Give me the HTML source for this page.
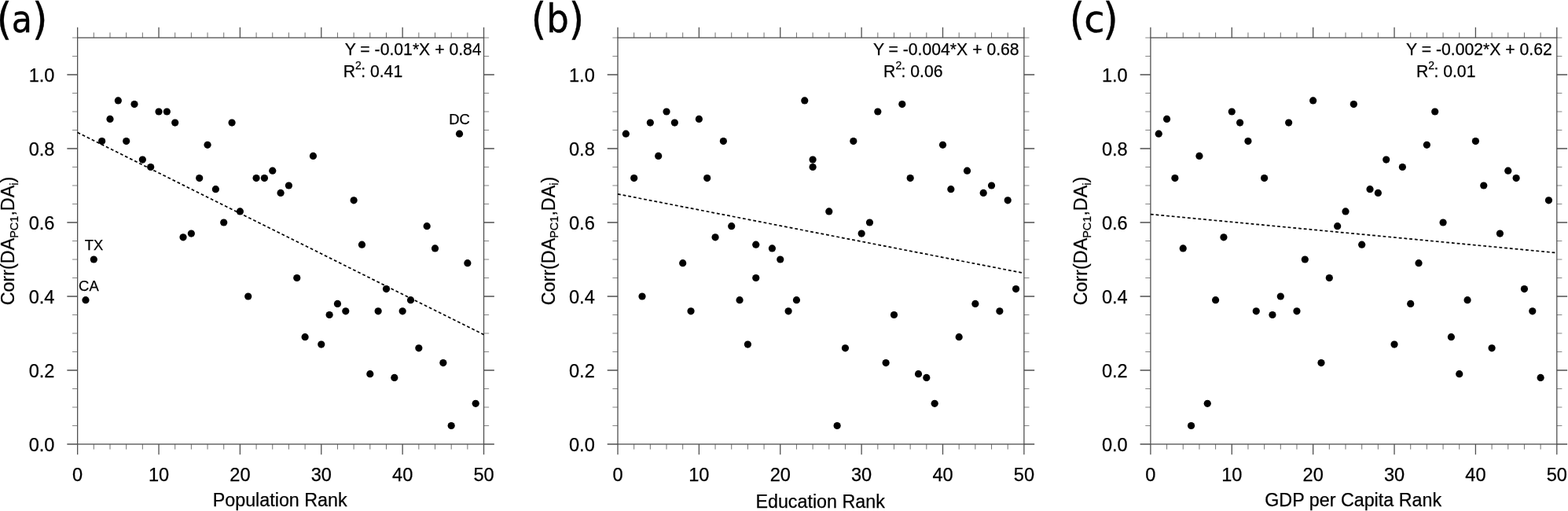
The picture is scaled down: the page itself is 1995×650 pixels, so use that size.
<!DOCTYPE html>
<html lang="en"><head><meta charset="utf-8"><title>Correlation vs. rank scatter plots</title>
<style>
html,body{margin:0;padding:0;background:#fff;}
body{width:1995px;height:650px;overflow:hidden;}
svg{display:block;}
text{font-family:"Liberation Sans",sans-serif;fill:#000;stroke:#000;stroke-width:0.25px;}
.ax{stroke:#505050;stroke-width:1.3;fill:none;}
.mj{stroke:#505050;stroke-width:1.3;fill:none;}
.mn{stroke:#6a6a6a;stroke-width:0.95;fill:none;}
.my{stroke:#808080;}
.fit{stroke:#000;stroke-width:1.7;stroke-dasharray:3.8 2.95;fill:none;}
.pt{fill:#000;}
.tk{font-size:23.6px;}
.tt{font-size:23.3px;}
.eq{font-size:21.2px;}
.lb{font-size:18.4px;}
.tag{font-family:"DejaVu Sans Condensed","DejaVu Sans","Liberation Sans",sans-serif;font-stretch:condensed;stroke-width:0.4px;}
.tag .n{font-family:"DejaVu Sans","Liberation Sans",sans-serif;font-stretch:normal;}
</style></head><body>
<svg width="1995" height="650" viewBox="0 0 1995 650">
<rect x="0" y="0" width="1995" height="650" fill="#fff"/>
<g id="panel-a">
<path class="mn" d="M119.33 565v6.6M119.33 48v-6.6M140 565v6.6M140 48v-6.6M160.68 565v6.6M160.68 48v-6.6M181.35 565v6.6M181.35 48v-6.6M222.71 565v6.6M222.71 48v-6.6M243.38 565v6.6M243.38 48v-6.6M264.06 565v6.6M264.06 48v-6.6M284.73 565v6.6M284.73 48v-6.6M326.09 565v6.6M326.09 48v-6.6M346.76 565v6.6M346.76 48v-6.6M367.44 565v6.6M367.44 48v-6.6M388.11 565v6.6M388.11 48v-6.6M429.47 565v6.6M429.47 48v-6.6M450.14 565v6.6M450.14 48v-6.6M470.82 565v6.6M470.82 48v-6.6M491.49 565v6.6M491.49 48v-6.6M532.85 565v6.6M532.85 48v-6.6M553.52 565v6.6M553.52 48v-6.6M574.2 565v6.6M574.2 48v-6.6M594.87 565v6.6M594.87 48v-6.6"/>
<path class="mn my" d="M98.65 541.5h-6.6M615.55 541.5h6.6M98.65 518h-6.6M615.55 518h6.6M98.65 494.5h-6.6M615.55 494.5h6.6M98.65 447.5h-6.6M615.55 447.5h6.6M98.65 424h-6.6M615.55 424h6.6M98.65 400.5h-6.6M615.55 400.5h6.6M98.65 353.5h-6.6M615.55 353.5h6.6M98.65 330h-6.6M615.55 330h6.6M98.65 306.5h-6.6M615.55 306.5h6.6M98.65 259.5h-6.6M615.55 259.5h6.6M98.65 236h-6.6M615.55 236h6.6M98.65 212.5h-6.6M615.55 212.5h6.6M98.65 165.5h-6.6M615.55 165.5h6.6M98.65 142h-6.6M615.55 142h6.6M98.65 118.5h-6.6M615.55 118.5h6.6M98.65 71.5h-6.6M615.55 71.5h6.6M98.65 48h-6.6M615.55 48h6.6"/>
<path class="mj" d="M98.65 565v13.3M98.65 48v-13.3M202.03 565v13.3M202.03 48v-13.3M305.41 565v13.3M305.41 48v-13.3M408.79 565v13.3M408.79 48v-13.3M512.17 565v13.3M512.17 48v-13.3M615.55 565v13.3M615.55 48v-13.3M98.65 565h-13.3M615.55 565h13.3M98.65 471h-13.3M615.55 471h13.3M98.65 377h-13.3M615.55 377h13.3M98.65 283h-13.3M615.55 283h13.3M98.65 189h-13.3M615.55 189h13.3M98.65 95h-13.3M615.55 95h13.3"/>
<rect class="ax" x="98.65" y="48" width="516.9" height="517"/>
<line class="fit" x1="98.65" y1="168.56" x2="615.55" y2="425.64"/>
<g class="pt">
<circle cx="108.99" cy="381.7" r="4.6"/>
<circle cx="119.33" cy="330" r="4.6"/>
<circle cx="129.66" cy="179.6" r="4.6"/>
<circle cx="140" cy="151.4" r="4.6"/>
<circle cx="150.34" cy="127.9" r="4.6"/>
<circle cx="160.68" cy="179.6" r="4.6"/>
<circle cx="171.02" cy="132.6" r="4.6"/>
<circle cx="181.35" cy="203.1" r="4.6"/>
<circle cx="191.69" cy="212.5" r="4.6"/>
<circle cx="202.03" cy="142" r="4.6"/>
<circle cx="212.37" cy="142" r="4.6"/>
<circle cx="222.71" cy="156.1" r="4.6"/>
<circle cx="233.04" cy="301.8" r="4.6"/>
<circle cx="243.38" cy="297.1" r="4.6"/>
<circle cx="253.72" cy="226.6" r="4.6"/>
<circle cx="264.06" cy="184.3" r="4.6"/>
<circle cx="274.4" cy="240.7" r="4.6"/>
<circle cx="284.73" cy="283" r="4.6"/>
<circle cx="295.07" cy="156.1" r="4.6"/>
<circle cx="305.41" cy="268.9" r="4.6"/>
<circle cx="315.75" cy="377" r="4.6"/>
<circle cx="326.09" cy="226.6" r="4.6"/>
<circle cx="336.42" cy="226.6" r="4.6"/>
<circle cx="346.76" cy="217.2" r="4.6"/>
<circle cx="357.1" cy="245.4" r="4.6"/>
<circle cx="367.44" cy="236" r="4.6"/>
<circle cx="377.78" cy="353.5" r="4.6"/>
<circle cx="388.11" cy="428.7" r="4.6"/>
<circle cx="398.45" cy="198.4" r="4.6"/>
<circle cx="408.79" cy="438.1" r="4.6"/>
<circle cx="419.13" cy="400.5" r="4.6"/>
<circle cx="429.47" cy="386.4" r="4.6"/>
<circle cx="439.8" cy="395.8" r="4.6"/>
<circle cx="450.14" cy="254.8" r="4.6"/>
<circle cx="460.48" cy="311.2" r="4.6"/>
<circle cx="470.82" cy="475.7" r="4.6"/>
<circle cx="481.16" cy="395.8" r="4.6"/>
<circle cx="491.49" cy="367.6" r="4.6"/>
<circle cx="501.83" cy="480.4" r="4.6"/>
<circle cx="512.17" cy="395.8" r="4.6"/>
<circle cx="522.51" cy="381.7" r="4.6"/>
<circle cx="532.85" cy="442.8" r="4.6"/>
<circle cx="543.18" cy="287.7" r="4.6"/>
<circle cx="553.52" cy="315.9" r="4.6"/>
<circle cx="563.86" cy="461.6" r="4.6"/>
<circle cx="574.2" cy="541.5" r="4.6"/>
<circle cx="584.54" cy="170.2" r="4.6"/>
<circle cx="594.87" cy="334.7" r="4.6"/>
<circle cx="605.21" cy="513.3" r="4.6"/>
</g>
<text class="tk" x="98.65" y="612.4" text-anchor="middle">0</text>
<text class="tk" x="202.03" y="612.4" text-anchor="middle">10</text>
<text class="tk" x="305.41" y="612.4" text-anchor="middle">20</text>
<text class="tk" x="408.79" y="612.4" text-anchor="middle">30</text>
<text class="tk" x="512.17" y="612.4" text-anchor="middle">40</text>
<text class="tk" x="615.55" y="612.4" text-anchor="middle">50</text>
<text class="tk" x="69.45" y="573.5" text-anchor="end">0.0</text>
<text class="tk" x="69.45" y="479.5" text-anchor="end">0.2</text>
<text class="tk" x="69.45" y="385.5" text-anchor="end">0.4</text>
<text class="tk" x="69.45" y="291.5" text-anchor="end">0.6</text>
<text class="tk" x="69.45" y="197.5" text-anchor="end">0.8</text>
<text class="tk" x="69.45" y="103.5" text-anchor="end">1.0</text>
<text class="tt" x="356.2" y="644" text-anchor="middle">Population Rank</text>
<text class="tt" transform="translate(18.15 306.5) rotate(-90)" text-anchor="middle">Corr(DA<tspan font-size="14.5" dy="4.5">PC1</tspan><tspan dy="-4.5">,DA</tspan><tspan font-size="14.5" dy="4.5">i</tspan><tspan dy="-4.5">)</tspan></text>
<text class="eq" x="438.7" y="70.3">Y = -0.01*X + 0.84</text>
<text class="eq" x="436.75" y="98.1">R<tspan font-size="14" dy="-9.8">2</tspan><tspan dy="9.8" dx="-0.7">: 0.41</tspan></text>
<text class="lb" x="119.6" y="317.8" text-anchor="middle">TX</text>
<text class="lb" x="112.9" y="370.2" text-anchor="middle">CA</text>
<text class="lb" x="584.5" y="158.4" text-anchor="middle">DC</text>
<text class="tag"><tspan x="-4.2" y="43.25" font-size="55.2">(</tspan><tspan x="14.74" y="40.7" font-size="47.4">a</tspan><tspan x="40.97" y="43.25" font-size="55.2">)</tspan></text>
</g>
<g id="panel-b">
<path class="mn" d="M806.68 565v6.6M806.68 48v-6.6M827.35 565v6.6M827.35 48v-6.6M848.03 565v6.6M848.03 48v-6.6M868.7 565v6.6M868.7 48v-6.6M910.06 565v6.6M910.06 48v-6.6M930.73 565v6.6M930.73 48v-6.6M951.41 565v6.6M951.41 48v-6.6M972.08 565v6.6M972.08 48v-6.6M1013.44 565v6.6M1013.44 48v-6.6M1034.11 565v6.6M1034.11 48v-6.6M1054.79 565v6.6M1054.79 48v-6.6M1075.46 565v6.6M1075.46 48v-6.6M1116.82 565v6.6M1116.82 48v-6.6M1137.49 565v6.6M1137.49 48v-6.6M1158.17 565v6.6M1158.17 48v-6.6M1178.84 565v6.6M1178.84 48v-6.6M1220.2 565v6.6M1220.2 48v-6.6M1240.87 565v6.6M1240.87 48v-6.6M1261.55 565v6.6M1261.55 48v-6.6M1282.22 565v6.6M1282.22 48v-6.6"/>
<path class="mn my" d="M786 541.5h-6.6M1302.9 541.5h6.6M786 518h-6.6M1302.9 518h6.6M786 494.5h-6.6M1302.9 494.5h6.6M786 447.5h-6.6M1302.9 447.5h6.6M786 424h-6.6M1302.9 424h6.6M786 400.5h-6.6M1302.9 400.5h6.6M786 353.5h-6.6M1302.9 353.5h6.6M786 330h-6.6M1302.9 330h6.6M786 306.5h-6.6M1302.9 306.5h6.6M786 259.5h-6.6M1302.9 259.5h6.6M786 236h-6.6M1302.9 236h6.6M786 212.5h-6.6M1302.9 212.5h6.6M786 165.5h-6.6M1302.9 165.5h6.6M786 142h-6.6M1302.9 142h6.6M786 118.5h-6.6M1302.9 118.5h6.6M786 71.5h-6.6M1302.9 71.5h6.6M786 48h-6.6M1302.9 48h6.6"/>
<path class="mj" d="M786 565v13.3M786 48v-13.3M889.38 565v13.3M889.38 48v-13.3M992.76 565v13.3M992.76 48v-13.3M1096.14 565v13.3M1096.14 48v-13.3M1199.52 565v13.3M1199.52 48v-13.3M1302.9 565v13.3M1302.9 48v-13.3M786 565h-13.3M1302.9 565h13.3M786 471h-13.3M1302.9 471h13.3M786 377h-13.3M1302.9 377h13.3M786 283h-13.3M1302.9 283h13.3M786 189h-13.3M1302.9 189h13.3M786 95h-13.3M1302.9 95h13.3"/>
<rect class="ax" x="786" y="48" width="516.9" height="517"/>
<line class="fit" x1="786" y1="246.86" x2="1302.9" y2="347.48"/>
<g class="pt">
<circle cx="796.34" cy="170.2" r="4.6"/>
<circle cx="806.68" cy="226.6" r="4.6"/>
<circle cx="817.01" cy="377" r="4.6"/>
<circle cx="827.35" cy="156.1" r="4.6"/>
<circle cx="837.69" cy="198.4" r="4.6"/>
<circle cx="848.03" cy="142" r="4.6"/>
<circle cx="858.37" cy="156.1" r="4.6"/>
<circle cx="868.7" cy="334.7" r="4.6"/>
<circle cx="879.04" cy="395.8" r="4.6"/>
<circle cx="889.38" cy="151.4" r="4.6"/>
<circle cx="899.72" cy="226.6" r="4.6"/>
<circle cx="910.06" cy="301.8" r="4.6"/>
<circle cx="920.39" cy="179.6" r="4.6"/>
<circle cx="930.73" cy="287.7" r="4.6"/>
<circle cx="941.07" cy="381.7" r="4.6"/>
<circle cx="951.41" cy="438.1" r="4.6"/>
<circle cx="961.75" cy="311.2" r="4.6"/>
<circle cx="961.75" cy="353.5" r="4.6"/>
<circle cx="982.42" cy="315.9" r="4.6"/>
<circle cx="992.76" cy="330" r="4.6"/>
<circle cx="1003.1" cy="395.8" r="4.6"/>
<circle cx="1013.44" cy="381.7" r="4.6"/>
<circle cx="1023.77" cy="127.9" r="4.6"/>
<circle cx="1034.11" cy="203.1" r="4.6"/>
<circle cx="1034.11" cy="212.5" r="4.6"/>
<circle cx="1054.79" cy="268.9" r="4.6"/>
<circle cx="1065.13" cy="541.5" r="4.6"/>
<circle cx="1075.46" cy="442.8" r="4.6"/>
<circle cx="1085.8" cy="179.6" r="4.6"/>
<circle cx="1096.14" cy="297.1" r="4.6"/>
<circle cx="1106.48" cy="283" r="4.6"/>
<circle cx="1116.82" cy="142" r="4.6"/>
<circle cx="1127.15" cy="461.6" r="4.6"/>
<circle cx="1137.49" cy="400.5" r="4.6"/>
<circle cx="1147.83" cy="132.6" r="4.6"/>
<circle cx="1158.17" cy="226.6" r="4.6"/>
<circle cx="1168.51" cy="475.7" r="4.6"/>
<circle cx="1178.84" cy="480.4" r="4.6"/>
<circle cx="1189.18" cy="513.3" r="4.6"/>
<circle cx="1199.52" cy="184.3" r="4.6"/>
<circle cx="1209.86" cy="240.7" r="4.6"/>
<circle cx="1220.2" cy="428.7" r="4.6"/>
<circle cx="1230.53" cy="217.2" r="4.6"/>
<circle cx="1240.87" cy="386.4" r="4.6"/>
<circle cx="1251.21" cy="245.4" r="4.6"/>
<circle cx="1261.55" cy="236" r="4.6"/>
<circle cx="1271.89" cy="395.8" r="4.6"/>
<circle cx="1282.22" cy="254.8" r="4.6"/>
<circle cx="1292.56" cy="367.6" r="4.6"/>
</g>
<text class="tk" x="786" y="612.4" text-anchor="middle">0</text>
<text class="tk" x="889.38" y="612.4" text-anchor="middle">10</text>
<text class="tk" x="992.76" y="612.4" text-anchor="middle">20</text>
<text class="tk" x="1096.14" y="612.4" text-anchor="middle">30</text>
<text class="tk" x="1199.52" y="612.4" text-anchor="middle">40</text>
<text class="tk" x="1302.9" y="612.4" text-anchor="middle">50</text>
<text class="tk" x="756.8" y="573.5" text-anchor="end">0.0</text>
<text class="tk" x="756.8" y="479.5" text-anchor="end">0.2</text>
<text class="tk" x="756.8" y="385.5" text-anchor="end">0.4</text>
<text class="tk" x="756.8" y="291.5" text-anchor="end">0.6</text>
<text class="tk" x="756.8" y="197.5" text-anchor="end">0.8</text>
<text class="tk" x="756.8" y="103.5" text-anchor="end">1.0</text>
<text class="tt" x="1043.65" y="646" text-anchor="middle">Education Rank</text>
<text class="tt" transform="translate(705.5 306.5) rotate(-90)" text-anchor="middle">Corr(DA<tspan font-size="14.5" dy="4.5">PC1</tspan><tspan dy="-4.5">,DA</tspan><tspan font-size="14.5" dy="4.5">i</tspan><tspan dy="-4.5">)</tspan></text>
<text class="eq" x="1110.9" y="70.3">Y = -0.004*X + 0.68</text>
<text class="eq" x="1124.1" y="98.1">R<tspan font-size="14" dy="-9.8">2</tspan><tspan dy="9.8" dx="-0.7">: 0.06</tspan></text>
<text class="tag"><tspan x="675.67" y="43.25" font-size="55.2">(</tspan><tspan x="695.2" y="40.55" font-size="50.0">b</tspan><tspan x="723.67" y="43.25" font-size="55.2">)</tspan></text>
</g>
<g id="panel-c">
<path class="mn" d="M1484.58 565v6.6M1484.58 48v-6.6M1505.25 565v6.6M1505.25 48v-6.6M1525.93 565v6.6M1525.93 48v-6.6M1546.6 565v6.6M1546.6 48v-6.6M1587.96 565v6.6M1587.96 48v-6.6M1608.63 565v6.6M1608.63 48v-6.6M1629.31 565v6.6M1629.31 48v-6.6M1649.98 565v6.6M1649.98 48v-6.6M1691.34 565v6.6M1691.34 48v-6.6M1712.01 565v6.6M1712.01 48v-6.6M1732.69 565v6.6M1732.69 48v-6.6M1753.36 565v6.6M1753.36 48v-6.6M1794.72 565v6.6M1794.72 48v-6.6M1815.39 565v6.6M1815.39 48v-6.6M1836.07 565v6.6M1836.07 48v-6.6M1856.74 565v6.6M1856.74 48v-6.6M1898.1 565v6.6M1898.1 48v-6.6M1918.77 565v6.6M1918.77 48v-6.6M1939.45 565v6.6M1939.45 48v-6.6M1960.12 565v6.6M1960.12 48v-6.6"/>
<path class="mn my" d="M1463.9 541.5h-6.6M1980.8 541.5h6.6M1463.9 518h-6.6M1980.8 518h6.6M1463.9 494.5h-6.6M1980.8 494.5h6.6M1463.9 447.5h-6.6M1980.8 447.5h6.6M1463.9 424h-6.6M1980.8 424h6.6M1463.9 400.5h-6.6M1980.8 400.5h6.6M1463.9 353.5h-6.6M1980.8 353.5h6.6M1463.9 330h-6.6M1980.8 330h6.6M1463.9 306.5h-6.6M1980.8 306.5h6.6M1463.9 259.5h-6.6M1980.8 259.5h6.6M1463.9 236h-6.6M1980.8 236h6.6M1463.9 212.5h-6.6M1980.8 212.5h6.6M1463.9 165.5h-6.6M1980.8 165.5h6.6M1463.9 142h-6.6M1980.8 142h6.6M1463.9 118.5h-6.6M1980.8 118.5h6.6M1463.9 71.5h-6.6M1980.8 71.5h6.6M1463.9 48h-6.6M1980.8 48h6.6"/>
<path class="mj" d="M1463.9 565v13.3M1463.9 48v-13.3M1567.28 565v13.3M1567.28 48v-13.3M1670.66 565v13.3M1670.66 48v-13.3M1774.04 565v13.3M1774.04 48v-13.3M1877.42 565v13.3M1877.42 48v-13.3M1980.8 565v13.3M1980.8 48v-13.3M1463.9 565h-13.3M1980.8 565h13.3M1463.9 471h-13.3M1980.8 471h13.3M1463.9 377h-13.3M1980.8 377h13.3M1463.9 283h-13.3M1980.8 283h13.3M1463.9 189h-13.3M1980.8 189h13.3M1463.9 95h-13.3M1980.8 95h13.3"/>
<rect class="ax" x="1463.9" y="48" width="516.9" height="517"/>
<line class="fit" x1="1463.9" y1="272.57" x2="1980.8" y2="321.63"/>
<g class="pt">
<circle cx="1474.24" cy="170.2" r="4.6"/>
<circle cx="1484.58" cy="151.4" r="4.6"/>
<circle cx="1494.91" cy="226.6" r="4.6"/>
<circle cx="1505.25" cy="315.9" r="4.6"/>
<circle cx="1515.59" cy="541.5" r="4.6"/>
<circle cx="1525.93" cy="198.4" r="4.6"/>
<circle cx="1536.27" cy="513.3" r="4.6"/>
<circle cx="1546.6" cy="381.7" r="4.6"/>
<circle cx="1556.94" cy="301.8" r="4.6"/>
<circle cx="1567.28" cy="142" r="4.6"/>
<circle cx="1577.62" cy="156.1" r="4.6"/>
<circle cx="1587.96" cy="179.6" r="4.6"/>
<circle cx="1598.29" cy="395.8" r="4.6"/>
<circle cx="1608.63" cy="226.6" r="4.6"/>
<circle cx="1618.97" cy="400.5" r="4.6"/>
<circle cx="1629.31" cy="377" r="4.6"/>
<circle cx="1639.65" cy="156.1" r="4.6"/>
<circle cx="1649.98" cy="395.8" r="4.6"/>
<circle cx="1660.32" cy="330" r="4.6"/>
<circle cx="1670.66" cy="127.9" r="4.6"/>
<circle cx="1681" cy="461.6" r="4.6"/>
<circle cx="1691.34" cy="353.5" r="4.6"/>
<circle cx="1701.67" cy="287.7" r="4.6"/>
<circle cx="1712.01" cy="268.9" r="4.6"/>
<circle cx="1722.35" cy="132.6" r="4.6"/>
<circle cx="1732.69" cy="311.2" r="4.6"/>
<circle cx="1743.03" cy="240.7" r="4.6"/>
<circle cx="1753.36" cy="245.4" r="4.6"/>
<circle cx="1763.7" cy="203.1" r="4.6"/>
<circle cx="1774.04" cy="438.1" r="4.6"/>
<circle cx="1784.38" cy="212.5" r="4.6"/>
<circle cx="1794.72" cy="386.4" r="4.6"/>
<circle cx="1805.05" cy="334.7" r="4.6"/>
<circle cx="1815.39" cy="184.3" r="4.6"/>
<circle cx="1825.73" cy="142" r="4.6"/>
<circle cx="1836.07" cy="283" r="4.6"/>
<circle cx="1846.41" cy="428.7" r="4.6"/>
<circle cx="1856.74" cy="475.7" r="4.6"/>
<circle cx="1867.08" cy="381.7" r="4.6"/>
<circle cx="1877.42" cy="179.6" r="4.6"/>
<circle cx="1887.76" cy="236" r="4.6"/>
<circle cx="1898.1" cy="442.8" r="4.6"/>
<circle cx="1908.43" cy="297.1" r="4.6"/>
<circle cx="1918.77" cy="217.2" r="4.6"/>
<circle cx="1929.11" cy="226.6" r="4.6"/>
<circle cx="1939.45" cy="367.6" r="4.6"/>
<circle cx="1949.79" cy="395.8" r="4.6"/>
<circle cx="1960.12" cy="480.4" r="4.6"/>
<circle cx="1970.46" cy="254.8" r="4.6"/>
</g>
<text class="tk" x="1463.9" y="612.4" text-anchor="middle">0</text>
<text class="tk" x="1567.28" y="612.4" text-anchor="middle">10</text>
<text class="tk" x="1670.66" y="612.4" text-anchor="middle">20</text>
<text class="tk" x="1774.04" y="612.4" text-anchor="middle">30</text>
<text class="tk" x="1877.42" y="612.4" text-anchor="middle">40</text>
<text class="tk" x="1980.8" y="612.4" text-anchor="middle">50</text>
<text class="tk" x="1434.7" y="573.5" text-anchor="end">0.0</text>
<text class="tk" x="1434.7" y="479.5" text-anchor="end">0.2</text>
<text class="tk" x="1434.7" y="385.5" text-anchor="end">0.4</text>
<text class="tk" x="1434.7" y="291.5" text-anchor="end">0.6</text>
<text class="tk" x="1434.7" y="197.5" text-anchor="end">0.8</text>
<text class="tk" x="1434.7" y="103.5" text-anchor="end">1.0</text>
<text class="tt" x="1721.65" y="644" text-anchor="middle">GDP per Capita Rank</text>
<text class="tt" transform="translate(1383.4 306.5) rotate(-90)" text-anchor="middle">Corr(DA<tspan font-size="14.5" dy="4.5">PC1</tspan><tspan dy="-4.5">,DA</tspan><tspan font-size="14.5" dy="4.5">i</tspan><tspan dy="-4.5">)</tspan></text>
<text class="eq" x="1789.1" y="70.3">Y = -0.002*X + 0.62</text>
<text class="eq" x="1802" y="98.1">R<tspan font-size="14" dy="-9.8">2</tspan><tspan dy="9.8" dx="-0.7">: 0.01</tspan></text>
<text class="tag"><tspan x="1360.87" y="43.25" font-size="55.2">(</tspan><tspan class="n" x="1379.25" y="40.9" font-size="48.1">c</tspan><tspan x="1403.2" y="43.25" font-size="55.2">)</tspan></text>
</g>
</svg>
</body></html>
